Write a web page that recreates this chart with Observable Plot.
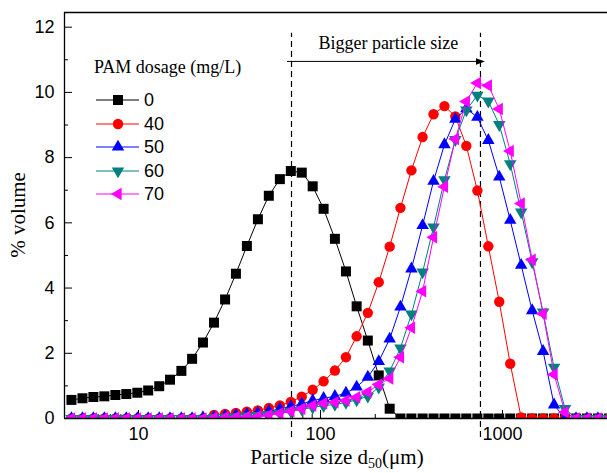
<!DOCTYPE html>
<html>
<head>
<meta charset="utf-8">
<script src="https://cdn.jsdelivr.net/npm/d3@7"></script>
<script src="https://cdn.jsdelivr.net/npm/@observablehq/plot@0.6"></script>
<style>
  body { margin: 0; background: #fff; }
  #chart { width: 607px; height: 473px; overflow: hidden; }
</style>
</head>
<body>
<div id="chart"></div>
<script>
// ---------- data ----------
const sizes = [4.28, 4.92, 5.65, 6.49, 7.46, 8.57, 9.85, 11.3, 13.0, 14.9,
  17.2, 19.7, 22.6, 26.0, 29.9, 34.3, 39.4, 45.3, 52.0, 59.8,
  68.7, 78.9, 90.6, 104, 120, 138, 158, 182, 209, 240,
  275, 316, 364, 418, 480, 551, 633, 728, 836, 960,
  1103, 1267, 1456, 1672, 1921, 2207, 2535, 2912, 3346, 3843];

const dosages = ["0", "40", "50", "60", "70"];

const vol0 = [0.57, 0.62, 0.66, 0.68, 0.72, 0.75, 0.79, 0.86, 0.99, 1.19,
  1.46, 1.83, 2.33, 2.94, 3.65, 4.44, 5.29, 6.11, 6.83, 7.34,
  7.59, 7.54, 7.12, 6.43, 5.51, 4.51, 3.44, 2.39, 1.32, 0.30,
  0, 0, 0, 0, 0, 0, 0, 0, 0, 0,
  0, 0, 0, 0, 0, 0, 0, 0, 0, 0];

const vol40 = [0, 0, 0, 0, 0, 0, 0, 0, 0, 0,
  0, 0, 0, 0.11, 0.14, 0.17, 0.21, 0.25, 0.32, 0.40,
  0.51, 0.67, 0.88, 1.14, 1.47, 1.88, 2.52, 3.24, 4.18, 5.27,
  6.46, 7.61, 8.63, 9.33, 9.58, 9.26, 8.36, 6.99, 5.28, 3.58,
  1.68, 0.03, 0, 0, 0, 0, 0, 0, 0, 0];

const vol50 = [0, 0, 0, 0, 0, 0, 0, 0, 0, 0,
  0, 0, 0.03, 0.05, 0.07, 0.10, 0.13, 0.17, 0.22, 0.29,
  0.37, 0.45, 0.55, 0.62, 0.68, 0.78, 0.97, 1.27, 1.75, 2.44,
  3.42, 4.59, 5.92, 7.28, 8.40, 9.18, 9.50, 9.24, 8.53, 7.41,
  6.08, 4.70, 3.31, 2.06, 0.42, 0, 0, 0, 0, 0];

const vol60 = [0, 0, 0, 0, 0, 0, 0, 0, 0, 0,
  0, 0, 0, 0.03, 0.04, 0.05, 0.07, 0.09, 0.12, 0.16,
  0.22, 0.28, 0.34, 0.39, 0.43, 0.49, 0.57, 0.68, 0.96, 1.45,
  2.16, 3.20, 4.49, 5.87, 7.32, 8.55, 9.46, 9.91, 9.73, 9.01,
  7.81, 6.33, 4.80, 3.26, 1.57, 0.30, 0, 0, 0, 0];

const vol70 = [0, 0, 0, 0, 0, 0, 0, 0, 0, 0,
  0, 0, 0, 0.02, 0.03, 0.04, 0.05, 0.07, 0.10, 0.15,
  0.22, 0.30, 0.40, 0.47, 0.50, 0.55, 0.65, 0.81, 1.04, 1.23,
  1.88, 2.78, 3.90, 5.56, 7.11, 8.57, 9.72, 10.29, 10.21, 9.49,
  8.20, 6.59, 4.87, 3.21, 1.35, 0.19, 0, 0, 0, 0];

const xMajorTicks = [10, 100, 1000];
const xMinorTicks = [5, 6, 7, 8, 9, 20, 30, 40, 50, 60, 70, 80, 90,
  200, 300, 400, 500, 600, 700, 800, 900, 2000, 3000];
const yMajorTicks = [0, 2, 4, 6, 8, 10, 12];
const yMinorTicks = [1, 3, 5, 7, 9, 11];

const d50Lines = [69.3, 757];          // dashed reference lines (µm)
const arrowFrom = 65.9, arrowTo = 757, arrowY = 10.95;
const annotationText = "Bigger particle size";
const legendTitle = "PAM dosage (mg/L)";
const xTitle = ["Particle size d", "50", "(\u03bcm)"];
const yTitle = "% volume";

// ---------- styling ----------
const colors = ["#000000", "#ff0000", "#0000ff", "#008080", "#ff00ff"];
const mk = (pts) => ({
  draw(ctx, size) {
    const a = Math.sqrt(size);
    ctx.moveTo(pts[0][0] * a, pts[0][1] * a);
    for (let i = 1; i < pts.length; i++) ctx.lineTo(pts[i][0] * a, pts[i][1] * a);
    ctx.closePath();
  }
});
const h3 = Math.sqrt(3) / 2;
const symSquare = mk([[-.5, -.5], [.5, -.5], [.5, .5], [-.5, .5]]);
const symUp = mk([[0, -2 * h3 / 3], [.5, h3 / 3], [-.5, h3 / 3]]);
const symDown = mk([[0, 2 * h3 / 3], [.5, -h3 / 3], [-.5, -h3 / 3]]);
const symLeft = mk([[-2 * h3 / 3, 0], [h3 / 3, -.5], [h3 / 3, .5]]);
const symHead = mk([[0.5, 0], [-0.5, -0.36], [-0.5, 0.36]]);
// symbol and its side length in px
const symbols = [[symSquare, 10], ["circle", 0], [symUp, 12.5], [symDown, 12.5], [symLeft, 12.5]];
const circleR = 5.2;

const series = [vol0, vol40, vol50, vol60, vol70];
const sans = "'Liberation Sans', Arial, sans-serif";
const serif = "'Liberation Serif', 'Times New Roman', serif";

const W = 607, H = 473, ML = 64, MR = 0, MT = 12, MB = 55;
const plotW = W - ML - MR, plotH = H - MT - MB;

const marks = [];
series.forEach((vals, si) => {
  const rows = sizes.map((s, i) => ({size: s, v: vals[i]}));
  marks.push(Plot.line(rows, {x: "size", y: "v", stroke: colors[si], strokeWidth: 1, clip: true}));
  const [sym, side] = symbols[si];
  marks.push(Plot.dot(rows, {
    x: "size", y: "v", fill: colors[si], stroke: "none",
    symbol: sym, r: sym === "circle" ? circleR : side / Math.sqrt(Math.PI), clip: true
  }));
});

// legend + axis titles drawn as SVG inside the plot
function overlay() {
  const g = d3.create("svg:g").attr("text-anchor", "start");
  g.append("text").attr("x", 94).attr("y", 67).attr("dy", "0.35em").attr("text-anchor", "start")
    .attr("font-family", serif).attr("font-size", 18).attr("fill", "#000").text(legendTitle);
  const rowsY = [100, 124, 147, 171, 194];
  dosages.forEach((d, i) => {
    const y = rowsY[i];
    g.append("line").attr("x1", 96).attr("x2", 139).attr("y1", y).attr("y2", y)
      .attr("stroke", colors[i]).attr("stroke-width", 1);
    const [sym, side] = symbols[i];
    const path = sym === "circle"
      ? d3.symbol(d3.symbolCircle, Math.PI * circleR * circleR)()
      : d3.symbol(sym, side * side)();
    g.append("path").attr("d", path).attr("transform", `translate(118,${y})`).attr("fill", colors[i]);
    g.append("text").attr("x", 144).attr("y", y).attr("dy", "0.35em").attr("text-anchor", "start")
      .attr("font-family", sans).attr("font-size", 18).attr("fill", "#000").text(d);
  });
  // x title with subscript
  const xt = g.append("text").attr("x", 337).attr("y", 464).attr("text-anchor", "middle")
    .attr("font-family", serif).attr("font-size", 21).attr("fill", "#000");
  xt.append("tspan").text(xTitle[0]);
  xt.append("tspan").attr("font-size", 14).attr("dy", 4).text(xTitle[1]);
  xt.append("tspan").attr("dy", -4).text(xTitle[2]);
  // y title
  g.append("text").attr("transform", "translate(25,215) rotate(-90)").attr("text-anchor", "middle")
    .attr("font-family", serif).attr("font-size", 21).attr("fill", "#000").text(yTitle);
  return g.node();
}

const chart = Plot.plot({
  width: W, height: H,
  marginLeft: ML, marginRight: MR, marginTop: MT, marginBottom: MB,
  style: {background: "#fff", overflow: "visible", fontFamily: sans},
  x: {type: "log", domain: [3.92, 3777], axis: null},
  y: {domain: [0, 12.45], axis: null},
  marks: [
    // tick labels
    Plot.axisX({ticks: xMajorTicks, tickSize: 0, tickPadding: 9, tickFormat: d => String(d),
      fontSize: 18, fontFamily: sans, fill: "#000", label: null}),
    Plot.axisY({ticks: yMajorTicks, tickSize: 0, tickPadding: 10, tickFormat: d => String(d),
      fontSize: 18, fontFamily: sans, fill: "#000", label: null}),
    // inward tick marks
    Plot.tickX(xMajorTicks, {x: d => d, insetTop: plotH - 8, stroke: "#000", strokeWidth: 1}),
    Plot.tickX(xMinorTicks, {x: d => d, insetTop: plotH - 4, stroke: "#000", strokeWidth: 1}),
    Plot.tickY(yMajorTicks, {y: d => d, insetRight: plotW - 8, stroke: "#000", strokeWidth: 1}),
    Plot.tickY(yMinorTicks, {y: d => d, insetRight: plotW - 4, stroke: "#000", strokeWidth: 1}),
    // dashed reference lines
    Plot.ruleX(d50Lines, {x: d => d, y1: -0.58, y2: 11.81, stroke: "#000", strokeWidth: 1.2, strokeDasharray: "6,4"}),
    // arrow
    Plot.ruleY([arrowY], {x1: arrowFrom, x2: arrowTo, stroke: "#000", strokeWidth: 1}),
    Plot.dot([arrowTo], {x: d => d, y: arrowY, symbol: symHead, r: 9 / Math.sqrt(Math.PI), fill: "#000", stroke: "none"}),
    Plot.text([annotationText], {x: 236, y: 11.5, text: d => d, fontFamily: serif, fontSize: 18, fill: "#000"}),
    ...marks,
    // frame (left, top, bottom)
    Plot.ruleX([3.92], {stroke: "#000", strokeWidth: 1.3}),
    Plot.ruleY([12.45], {stroke: "#000", strokeWidth: 1.3}),
    Plot.ruleY([0], {stroke: "#000", strokeWidth: 1.3}),
    overlay
  ]
});
document.getElementById("chart").appendChild(chart);
</script>
</body>
</html>
